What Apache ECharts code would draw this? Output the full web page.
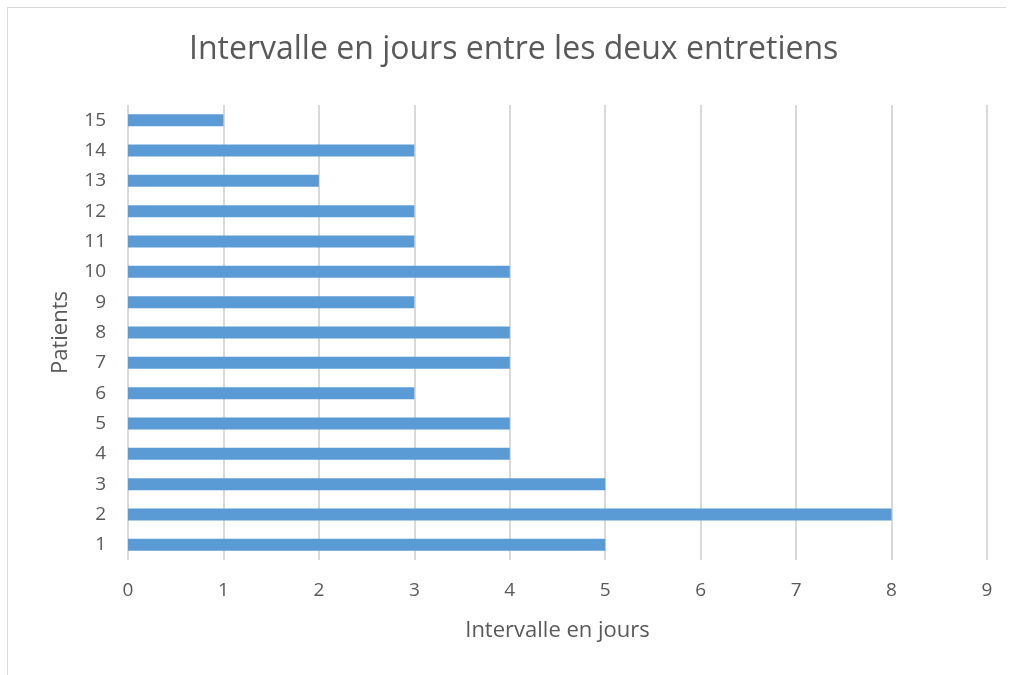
<!DOCTYPE html>
<html>
<head>
<meta charset="utf-8">
<script src="https://cdn.jsdelivr.net/npm/echarts@6/dist/echarts.min.js"></script>
<style>
  html, body { margin: 0; padding: 0; background: #fff; }
  #frame { position: absolute; left: 7px; top: 7px; width: 998px; height: 680px;
           border-top: 1px solid #d9d9d9; border-left: 1px solid #d9d9d9; }
  #chart { position: absolute; left: 0; top: 0; width: 1010px; height: 675px; }
</style>
</head>
<body>
<div id="frame"></div>
<div id="chart"></div>
<script>
// patients 1..15 and their interval in days
const patients = ['1','2','3','4','5','6','7','8','9','10','11','12','13','14','15'];
const intervalDays = [5, 8, 5, 4, 4, 3, 4, 4, 3, 4, 3, 3, 2, 3, 1];
const xMin = 0, xMax = 9;

const chart = echarts.init(document.getElementById('chart'));
const textColor = '#595959';
const font = '"Open Sans", "Liberation Sans", sans-serif';

chart.setOption({
  animation: false,
  title: {
    text: 'Intervalle en jours entre les deux entretiens',
    left: 189,
    top: 34,
    padding: 0,
    textStyle: { fontFamily: font, fontSize: 32, fontWeight: 'normal', color: textColor }
  },
  grid: { left: 128, right: 23, top: 105, bottom: 115 },
  xAxis: {
    type: 'value',
    min: xMin,
    max: xMax,
    interval: 1,
    name: 'Intervalle en jours',
    nameLocation: 'middle',
    nameGap: 60,
    nameTextStyle: { fontFamily: font, fontSize: 22, color: textColor },
    axisLine: { show: false },
    axisTick: { show: false },
    axisLabel: { margin: 21, fontFamily: font, fontSize: 19, color: textColor },
    splitLine: { show: true, lineStyle: { color: '#d9d9d9', width: 2 } }
  },
  yAxis: {
    type: 'category',
    data: patients,
    name: 'Patients',
    nameLocation: 'middle',
    nameGap: 56,
    nameRotate: 90,
    nameTextStyle: { fontFamily: font, fontSize: 22, color: textColor },
    axisLine: { show: false },
    axisTick: { show: false },
    axisLabel: { margin: 22, fontFamily: font, fontSize: 19, color: textColor },
    splitLine: { show: false }
  },
  series: [{
    type: 'bar',
    data: intervalDays,
    barWidth: 12,
    itemStyle: { color: '#5b9bd5' }
  }]
});
</script>
</body>
</html>
